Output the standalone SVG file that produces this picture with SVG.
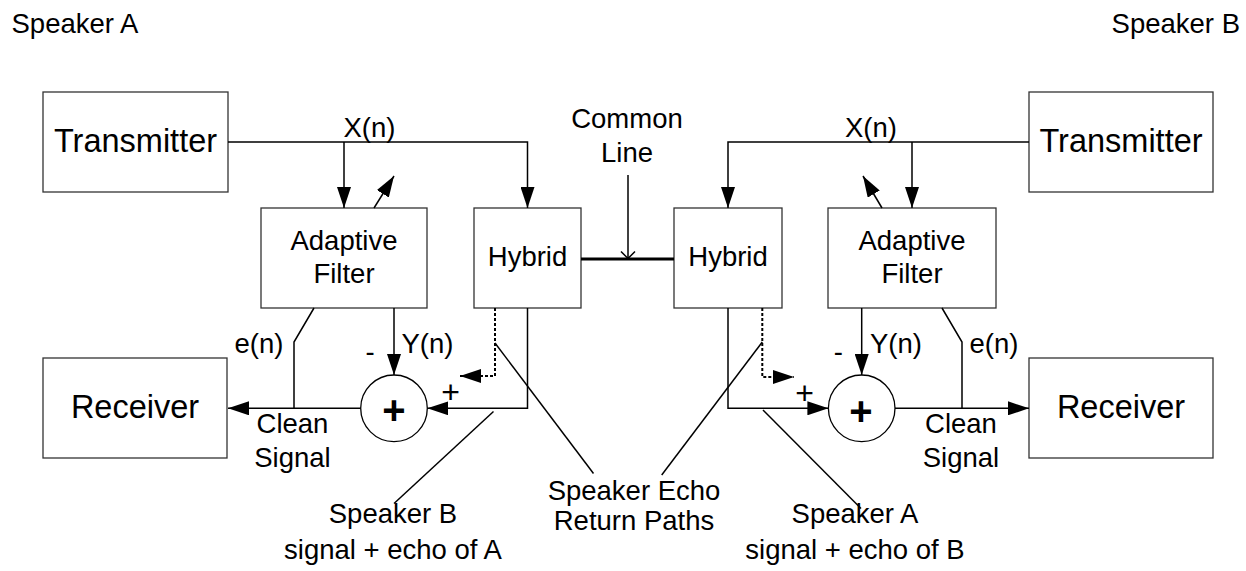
<svg xmlns="http://www.w3.org/2000/svg" width="1246" height="571" viewBox="0 0 1246 571">
<style>
  .box { fill: #fff; stroke: #333; stroke-width: 1.3; }
  .ln { fill: none; stroke: #000; stroke-width: 1.5; }
  .dash { fill: none; stroke: #000; stroke-width: 2; stroke-dasharray: 3 2; }
  .thick { fill: none; stroke: #000; stroke-width: 3.2; }
  text { font-family: "Liberation Sans", Arial, sans-serif; fill: #000; }
  .lbl { font-size: 27.5px; }
  .big { font-size: 32.5px; }
  .mid { text-anchor: middle; }
</style>
<defs>
  <marker id="ah" markerUnits="userSpaceOnUse" markerWidth="22" markerHeight="14" refX="21" refY="7" orient="auto">
    <path d="M0,0 L21,7 L0,14 z" fill="#000"/>
  </marker>
</defs>

<text id="speakerA" class="lbl" x="11.5" y="33">Speaker A</text>
<text id="speakerB" class="lbl" x="1240" y="33" text-anchor="end">Speaker B</text>

<g id="txA"><rect class="box" x="43" y="92" width="185" height="100"/><text class="big mid" x="135.5" y="152">Transmitter</text></g>
<g id="rxA"><rect class="box" x="43" y="358" width="184" height="100"/><text class="big mid" x="135" y="418">Receiver</text></g>
<g id="afA"><rect class="box" x="261" y="208" width="166" height="100"/><text class="lbl mid" x="344" y="250">Adaptive</text><text class="lbl mid" x="344" y="283">Filter</text></g>
<g id="hyA"><rect class="box" x="474" y="208" width="107" height="100"/><text class="lbl mid" x="527.5" y="266">Hybrid</text></g>
<g id="sumA"><circle cx="394" cy="408.3" r="33.3" fill="#fff" stroke="#000" stroke-width="1.3"/><text class="mid" x="394" y="423.5" font-size="40" font-weight="bold">+</text></g>

<g id="hyB"><rect class="box" x="674" y="208" width="108" height="100"/><text class="lbl mid" x="728" y="266">Hybrid</text></g>
<g id="afB"><rect class="box" x="828" y="208" width="168" height="100"/><text class="lbl mid" x="912" y="250">Adaptive</text><text class="lbl mid" x="912" y="283">Filter</text></g>
<g id="txB"><rect class="box" x="1029" y="92" width="184" height="100"/><text class="big mid" x="1121" y="152">Transmitter</text></g>
<g id="rxB"><rect class="box" x="1029" y="358" width="184" height="100"/><text class="big mid" x="1121" y="418">Receiver</text></g>
<g id="sumB"><circle cx="861.7" cy="408.3" r="33.3" fill="#fff" stroke="#000" stroke-width="1.3"/><text class="mid" x="861" y="424.5" font-size="40" font-weight="bold">+</text></g>

<g id="connectors">
  <!-- left side -->
  <path class="ln" d="M228,142 H527.5 V208" marker-end="url(#ah)"/>
  <path class="ln" d="M344,142 V208" marker-end="url(#ah)"/>
  <path class="ln" d="M374,208 L394,176" marker-end="url(#ah)"/>
  <path class="ln" d="M527.5,308 V408.3 H427.3" marker-end="url(#ah)"/>
  <path class="ln" d="M360.7,408.3 H228" marker-end="url(#ah)"/>
  <path class="ln" d="M314,308 L294,342 V408.3"/>
  <path class="ln" d="M394,308 V375" marker-end="url(#ah)"/>
  <path class="dash" d="M495,308 V376 H460" marker-end="url(#ah)"/>
  <path class="ln" d="M495,343 L593.5,473.5" stroke-width="1.3"/>
  <path class="ln" d="M493.5,411.5 L394,503.5" stroke-width="1.3"/>
  <!-- common line -->
  <path class="thick" d="M581,259 H674"/>
  <path class="ln" d="M628,175 V258"/>
  <path class="ln" d="M621,251.5 L628,258.5 L635,251.5"/>
  <!-- right side -->
  <path class="ln" d="M1029,142 H728 V208" marker-end="url(#ah)"/>
  <path class="ln" d="M912,142 V208" marker-end="url(#ah)"/>
  <path class="ln" d="M882,208 L863,176" marker-end="url(#ah)"/>
  <path class="ln" d="M728,308 V408.3 H828.4" marker-end="url(#ah)"/>
  <path class="ln" d="M895,408.3 H1029" marker-end="url(#ah)"/>
  <path class="ln" d="M942,308 L962,342 V408.3"/>
  <path class="ln" d="M861.7,308 V375" marker-end="url(#ah)"/>
  <path class="dash" d="M762.3,308 V377 H794" marker-end="url(#ah)"/>
  <path class="ln" d="M762.3,342 L661.7,475" stroke-width="1.3"/>
  <path class="ln" d="M763,410 L861,508.5" stroke-width="1.3"/>
</g>

<g id="labels">
  <text class="lbl mid" x="369.5" y="137">X(n)</text>
  <text class="lbl mid" x="871" y="137">X(n)</text>
  <text class="lbl mid" x="627" y="128.3">Common</text>
  <text class="lbl mid" x="627" y="161.7">Line</text>
  <text class="lbl mid" x="259" y="353">e(n)</text>
  <text class="lbl" x="401.5" y="353">Y(n)</text>
  <text class="lbl mid" x="370" y="360.5">-</text>
  <text class="mid" x="450.5" y="403" font-size="32">+</text>
  <text class="lbl mid" x="292.5" y="433">Clean</text>
  <text class="lbl mid" x="292.5" y="466.7">Signal</text>
  <text class="lbl mid" x="393" y="523.3">Speaker B</text>
  <text class="lbl mid" x="393" y="559.3">signal + echo of A</text>
  <text class="lbl mid" x="634" y="500">Speaker Echo</text>
  <text class="lbl mid" x="634" y="530">Return Paths</text>
  <text class="lbl mid" x="994" y="353">e(n)</text>
  <text class="lbl" x="870" y="353">Y(n)</text>
  <text class="lbl mid" x="838.3" y="360.5">-</text>
  <text class="mid" x="804.7" y="404" font-size="32">+</text>
  <text class="lbl mid" x="961" y="433">Clean</text>
  <text class="lbl mid" x="961" y="466.7">Signal</text>
  <text class="lbl mid" x="855" y="523.3">Speaker A</text>
  <text class="lbl mid" x="855" y="559.3">signal + echo of B</text>
</g>
</svg>
